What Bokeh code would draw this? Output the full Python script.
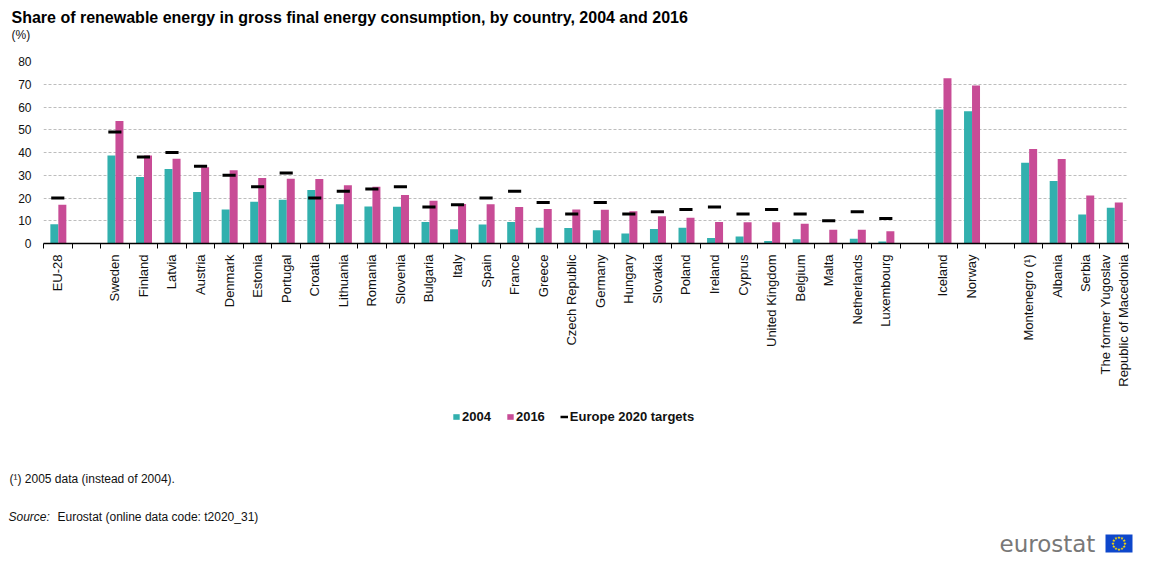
import math
from bokeh.plotting import figure
from bokeh.layouts import column
from bokeh.models import (Range1d, FixedTicker, ColumnDataSource, Label, Legend,
                          LegendItem, BoxAnnotation)
from bokeh.transform import dodge
from bokeh.embed import file_html
from bokeh.resources import INLINE

# ---------------- data ----------------
categories = ["EU-28", "", "Sweden", "Finland", "Latvia", "Austria", "Denmark", "Estonia",
              "Portugal", "Croatia", "Lithuania", "Romania", "Slovenia", "Bulgaria", "Italy",
              "Spain", "France", "Greece", "Czech Republic", "Germany", "Hungary", "Slovakia",
              "Poland", "Ireland", "Cyprus", "United Kingdom", "Belgium", "Malta", "Netherlands",
              "Luxembourg", "", "Iceland", "Norway", "", "Montenegro (\u00b9)", "Albania", "Serbia",
              "The former Yugoslav\nRepublic of Macedonia"]

v2004 = [8.5, None, 38.7, 29.2, 32.8, 22.6, 14.9, 18.4, 19.2, 23.5, 17.2, 16.3, 16.1, 9.4, 6.3,
         8.3, 9.5, 6.9, 6.8, 5.8, 4.4, 6.4, 6.9, 2.4, 3.1, 1.1, 1.9, 0.1, 2.1,
         0.9, None, 58.9, 58.1, None, 35.5, 27.5, 12.7, 15.7]

v2016 = [17.0, None, 53.8, 38.7, 37.2, 33.5, 32.2, 28.8, 28.5, 28.3, 25.6, 25.0, 21.3, 18.8, 17.4,
         17.3, 16.0, 15.2, 14.9, 14.8, 14.2, 12.0, 11.3, 9.5, 9.3, 9.3, 8.7, 6.0, 6.0,
         5.4, None, 72.6, 69.4, None, 41.5, 37.1, 21.1, 18.0]

targets = [20, None, 49, 38, 40, 34, 30, 25, 31, 20, 23, 24, 25, 16, 17,
           20, 23, 18, 13, 18, 13, 14, 15, 16, 13, 15, 13, 10, 14,
           11, None, None, None, None, None, None, None, None]

y_ticks = [0, 10, 20, 30, 40, 50, 60, 70, 80]
legend_labels = ["2004", "2016", "Europe 2020 targets"]

TEAL = "#32B0AE"
PINK = "#C84C96"

W = 1133
H_HEAD, H_MAIN, H_FOOT = 48, 357, 153   # total 558

# ---------------- sources ----------------
idx = [i for i, v in enumerate(v2004) if v is not None]
bars = ColumnDataSource(dict(x=idx, a=[v2004[i] for i in idx], b=[v2016[i] for i in idx]))
tidx = [i for i, v in enumerate(targets) if v is not None]
tsrc = ColumnDataSource(dict(x=tidx, t=[targets[i] for i in tidx]))
n = len(categories)


def no_align(f):
    if "frame_align" in f.properties():
        f.frame_align = False


def blank(height, y0):
    f = figure(width=W, height=height, output_backend="svg", toolbar_location=None,
               x_range=Range1d(0, W), y_range=Range1d(y0 + height, y0),
               x_axis_type=None, y_axis_type=None, min_border=0, title=None)
    f.outline_line_color = None
    f.xgrid.visible = False
    f.ygrid.visible = False
    no_align(f)
    return f


def lab(f, text, x, y, size="12px", style="normal", color="#111111", font="Liberation Sans",
        align="left", baseline="middle"):
    f.add_layout(Label(text=text, x=x, y=y, text_font=font, text_font_size=size,
                       text_font_style=style, text_color=color, text_align=align,
                       text_baseline=baseline))


# ---------------- header ----------------
head = blank(H_HEAD, 0)
lab(head, "Share of renewable energy in gross final energy consumption, by country, 2004 and 2016",
    11, 16.5, size="16px", style="bold", color="black")
lab(head, "(%)", 11, 34, size="12px")

# ---------------- main chart ----------------
# frame: x 43..1128, y 61..243 (page pixels)
p = figure(width=W, height=H_MAIN, output_backend="svg", toolbar_location=None,
           x_range=Range1d(-0.5, n - 0.5), y_range=Range1d(0, 80),
           min_border_left=43, min_border_right=W - 1128, min_border_top=61 - H_HEAD,
           min_border_bottom=H_HEAD + H_MAIN - 243, title=None)
p.outline_line_color = None
no_align(p)

p.vbar(x=dodge("x", -0.12, range=p.x_range), top="a", width=0.28, source=bars,
       fill_color=TEAL, line_color=None)
p.vbar(x=dodge("x", 0.16, range=p.x_range), top="b", width=0.28, source=bars,
       fill_color=PINK, line_color=None)
p.rect(x="x", y="t", width=0.46, height=3, height_units="screen", source=tsrc,
       fill_color="black", line_color=None)

p.xgrid.visible = False
p.ygrid.ticker = FixedTicker(ticks=y_ticks)
p.ygrid.grid_line_color = "#bdbdbd"
p.ygrid.grid_line_dash = "3 2"
p.ygrid.grid_line_width = 1

p.yaxis.ticker = FixedTicker(ticks=y_ticks)
p.yaxis.axis_line_color = None
p.yaxis.major_tick_line_color = None
p.yaxis.minor_tick_line_color = None
p.yaxis.major_tick_out = 0
p.yaxis.major_tick_in = 0
p.yaxis.major_label_standoff = 12
p.yaxis.major_label_text_font = "Liberation Sans"
p.yaxis.major_label_text_font_size = "12px"
p.yaxis.major_label_text_color = "#111111"

p.xaxis.ticker = FixedTicker(ticks=list(range(n)), minor_ticks=[i - 0.5 for i in range(n + 1)])
p.xaxis.major_label_overrides = {i: c for i, c in enumerate(categories)}
p.xaxis.major_label_orientation = math.pi / 2
p.xaxis.axis_line_color = "black"
p.xaxis.axis_line_width = 1.5
p.xaxis.major_tick_line_color = None
p.xaxis.major_tick_out = 5
p.xaxis.major_tick_in = 0
p.xaxis.minor_tick_line_color = "black"
p.xaxis.minor_tick_out = 5
p.xaxis.minor_tick_in = 0
p.xaxis.minor_tick_line_width = 1
p.xaxis.major_label_standoff = 6
p.xaxis.major_label_text_font = "Liberation Sans"
p.xaxis.major_label_text_font_size = "13px"
p.xaxis.major_label_text_color = "#111111"

# ---------------- footer ----------------
Y0 = H_HEAD + H_MAIN
foot = blank(H_FOOT, Y0)
# legend proxies (zero-size, nothing visible)
l1 = foot.vbar(x=[600], top=[Y0 + 5], bottom=[Y0 + 5], width=0, fill_color=TEAL, line_color=None)
l2 = foot.vbar(x=[600], top=[Y0 + 5], bottom=[Y0 + 5], width=0, fill_color=PINK, line_color=None)
l3 = foot.line(x=[600, 600], y=[Y0 + 5, Y0 + 5], line_color="black", line_width=2.5)
legend = Legend(items=[LegendItem(label=legend_labels[0], renderers=[l1]),
                       LegendItem(label=legend_labels[1], renderers=[l2]),
                       LegendItem(label=legend_labels[2], renderers=[l3])],
                location=(452, Y0 + H_FOOT - 424), orientation="horizontal",
                glyph_width=8, glyph_height=7, label_standoff=2, spacing=15,
                padding=0, margin=0, border_line_color=None, background_fill_alpha=0,
                label_text_font="Liberation Sans", label_text_font_style="bold",
                label_text_font_size="13px", label_text_color="#111111")
foot.add_layout(legend)

lab(foot, "(\u00b9) 2005 data (instead of 2004).", 9, 478.5, size="12px")
lab(foot, "Source:", 8, 516.5, size="12px", style="italic")
lab(foot, "Eurostat (online data code: t2020_31)", 57, 516.5, size="12px")

# eurostat logo
lab(foot, "eurostat", 999, 543, size="23px", color="#787878", font="DejaVu Sans")
foot.add_layout(BoxAnnotation(left=1105, right=1132, top=534, bottom=552, level="underlay",
                              fill_color="#0E47CB", fill_alpha=1, line_color=None))
cx, cy, rr = 1118.5, 543, 6
sx = [cx + rr * math.cos(2 * math.pi * k / 12) for k in range(12)]
sy = [cy + rr * math.sin(2 * math.pi * k / 12) for k in range(12)]
foot.scatter(x=sx, y=sy, marker="star", size=3.5, color="#FFDD00", line_color=None)

layout = column(head, p, foot, spacing=0)
open("out.html", "w").write(file_html(layout, INLINE))
